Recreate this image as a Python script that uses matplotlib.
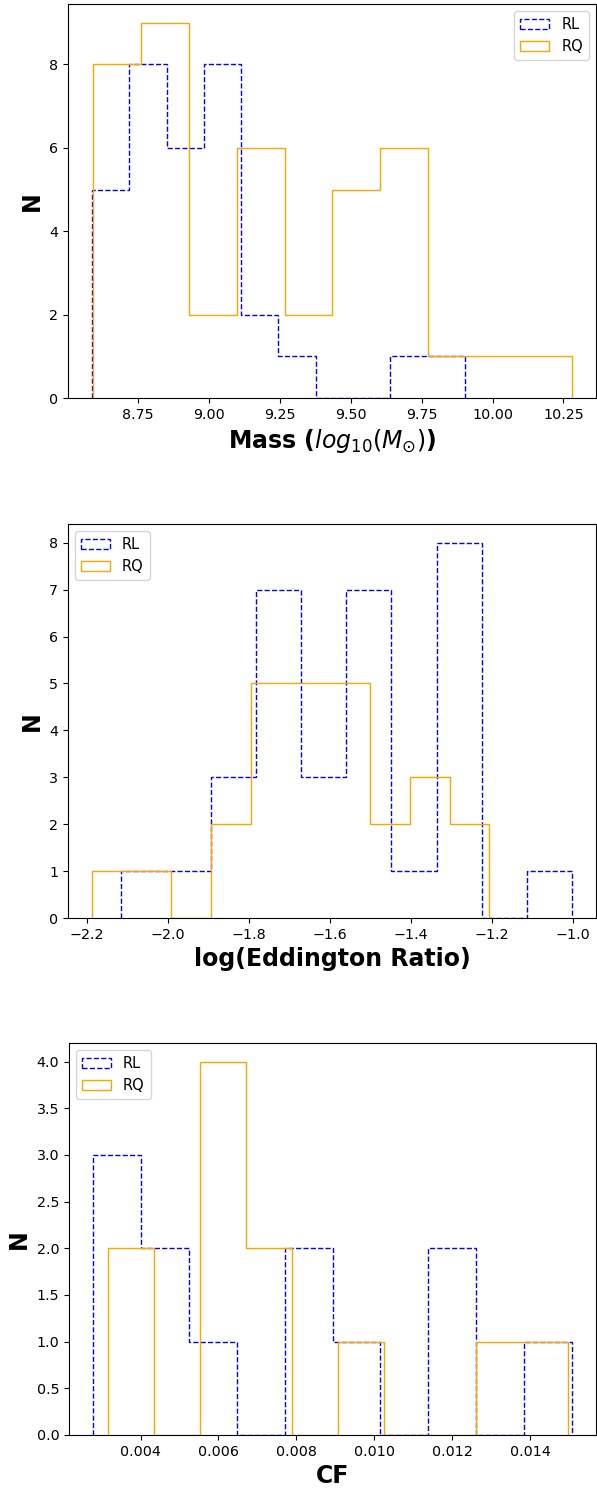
import numpy as np
import matplotlib
matplotlib.use("Agg")
import matplotlib.pyplot as plt

# bin ranges (min, max of the data) and counts per bin
mass_rl_range = (8.587, 9.902)
mass_rl_counts = [5, 8, 6, 8, 2, 1, 0, 0, 1, 1]
mass_rq_range = (8.590, 10.280)
mass_rq_counts = [8, 9, 2, 6, 2, 5, 6, 1, 1, 1]

edd_rl_range = (-2.117, -1.002)
edd_rl_counts = [1, 1, 3, 7, 3, 7, 1, 8, 0, 1]
edd_rq_range = (-2.188, -1.206)
edd_rq_counts = [1, 1, 0, 2, 5, 5, 5, 2, 3, 2]

cf_rl_range = (0.00278, 0.01507)
cf_rl_counts = [3, 2, 1, 0, 2, 1, 0, 2, 0, 1]
cf_rq_range = (0.00316, 0.01497)
cf_rq_counts = [2, 0, 4, 2, 0, 1, 0, 0, 1, 1]


def draw(ax, rl_range, rl_counts, rq_range, rq_counts, xlabel, loc):
    e = np.linspace(rl_range[0], rl_range[1], len(rl_counts) + 1)
    ax.hist(e[:-1], bins=e, weights=rl_counts, histtype="step",
            color="blue", linestyle="--", label="RL")
    e = np.linspace(rq_range[0], rq_range[1], len(rq_counts) + 1)
    ax.hist(e[:-1], bins=e, weights=rq_counts, histtype="step",
            color="orange", label="RQ")
    ax.set_xlabel(xlabel, fontsize=17, fontweight="bold")
    ax.set_ylabel("N", fontsize=17, fontweight="bold")
    ax.tick_params(labelsize=10.3)
    ax.legend(loc=loc, fontsize=10.5)


W, H = 597, 1488
fig = plt.figure(figsize=(W / 100, H / 100), dpi=100)

ax1 = fig.add_axes([68 / W, 1 - 398 / H, 528 / W, 394 / H])
draw(ax1, mass_rl_range, mass_rl_counts, mass_rq_range, mass_rq_counts,
     r"Mass ($log_{10}(M_{\odot})$)", "upper right")

ax2 = fig.add_axes([68 / W, 1 - 918 / H, 528 / W, 394 / H])
draw(ax2, edd_rl_range, edd_rl_counts, edd_rq_range, edd_rq_counts,
     "log(Eddington Ratio)", "upper left")

ax3 = fig.add_axes([69 / W, 1 - 1435 / H, 527 / W, 392 / H])
draw(ax3, cf_rl_range, cf_rl_counts, cf_rq_range, cf_rq_counts,
     "CF", "upper left")

fig.savefig("out.png", dpi=100)
